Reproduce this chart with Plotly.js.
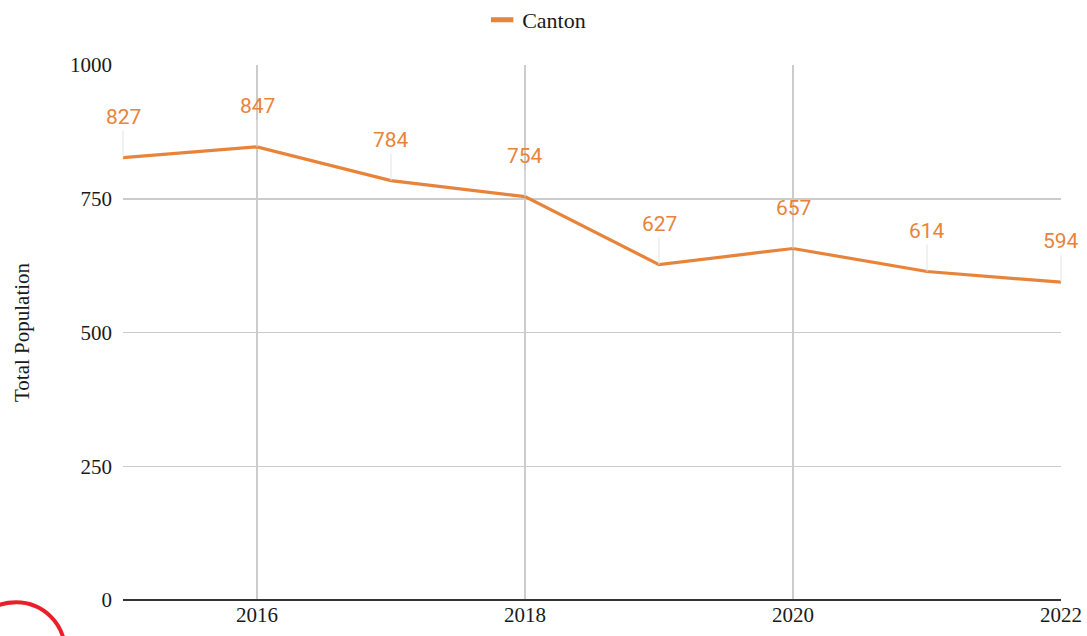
<!DOCTYPE html>
<html>
<head>
<meta charset="utf-8">
<script src="https://cdn.plot.ly/plotly-3.0.1.min.js"></script>
<style>html,body{margin:0;padding:0;background:#fff;}#chart{width:1087px;height:636px;}</style>
</head>
<body>
<div id="chart"></div>
<script>
const years = [2015, 2016, 2017, 2018, 2019, 2020, 2021, 2022];
const population = [827, 847, 784, 754, 627, 657, 614, 594];
const seriesName = "Canton";
const yTicks = [0, 250, 500, 750, 1000];
const xTicks = [2016, 2018, 2020, 2022];

const orange = "#E8833A";
const serif = "'Liberation Serif', 'Times New Roman', serif";
const textCol = "#1a1a1a";

const annotations = years.map((yr, i) => ({
  x: yr, y: population[i], xref: "x", yref: "y",
  text: String(population[i]),
  showarrow: true, arrowhead: 0, arrowwidth: 1, arrowcolor: "#e3e3e3",
  ax: 0, ay: -27, standoff: 0,
  yanchor: "bottom",
  font: {family: "Roboto, sans-serif", size: 21, color: orange}
}));

const trace = {
  x: years, y: population, type: "scatter", mode: "lines",
  name: seriesName, showlegend: false,
  line: {color: orange, width: 3.2}
};
const legendTrace = {
  x: [null], y: [null], type: "scatter", mode: "markers",
  name: seriesName, showlegend: true,
  marker: {symbol: "line-ew", size: 19, color: orange, line: {color: orange, width: 6}}
};

const layout = {
  width: 1087, height: 636,
  margin: {l: 123, r: 26, t: 65, b: 36, autoexpand: false},
  paper_bgcolor: "#fff", plot_bgcolor: "#fff",
  showlegend: true,
  legend: {orientation: "h", x: 0.441, xanchor: "center", y: 1.084, yanchor: "middle",
           font: {family: serif, size: 22, color: textCol}},
  xaxis: {range: [2015, 2022], tickvals: xTicks, ticktext: xTicks.map(String),
          showgrid: true, gridcolor: "#cccccc", gridwidth: 1.5, zeroline: false,
          showline: false, ticks: "", tickfont: {family: serif, size: 21, color: textCol}},
  yaxis: {range: [0, 1000], tickvals: yTicks, showgrid: true, gridcolor: "#cccccc", gridwidth: 1.5,
          zeroline: true, zerolinecolor: "#333", zerolinewidth: 2, ticks: "",
          tickfont: {family: serif, size: 21, color: textCol}, ticklabelstandoff: 10,
          title: {text: "Total Population", font: {family: serif, size: 21, color: textCol}, standoff: 34}},
  annotations: annotations,
  shapes: [{type: "circle", xref: "paper", yref: "paper",
            x0: -0.166, x1: -0.062, y0: -0.185, y1: -0.004,
            line: {color: "#e8202a", width: 4}, fillcolor: "rgba(0,0,0,0)"}]
};

Plotly.newPlot("chart", [trace, legendTrace], layout, {displayModeBar: false, staticPlot: true});
</script>
</body>
</html>
